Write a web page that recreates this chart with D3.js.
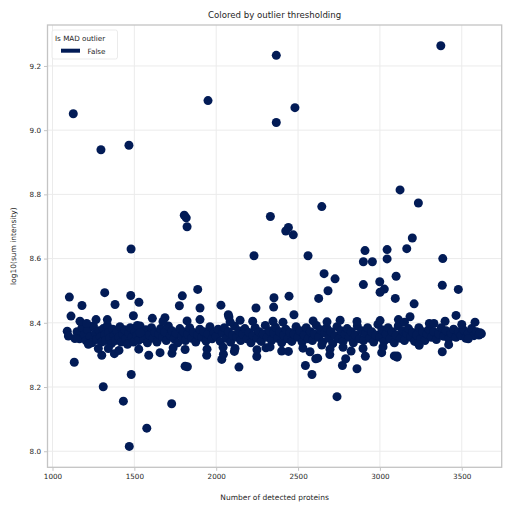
<!DOCTYPE html>
<html>
<head>
<meta charset="utf-8">
<script src="https://cdn.jsdelivr.net/npm/d3@7"></script>
<style>
  body { margin: 0; background: #fff; }
  text { font-family: "DejaVu Sans", sans-serif; fill: #262626; }
</style>
</head>
<body>
<svg id="chart"></svg>
<script>
// tick labels
var xTicks = [1000, 1500, 2000, 2500, 3000, 3500];
var yTicks = [8.0, 8.2, 8.4, 8.6, 8.8, 9.0, 9.2];
var legendItems = ["False"];

// [detected proteins, log10(sum intensity)]
var highPoints = [
  [1127, 9.051], [1296, 8.939], [1467, 8.953], [1950, 9.092], [2367, 9.233], [2367, 9.024],
  [2481, 9.070], [3372, 9.263], [1805, 8.735], [1817, 8.727], [1822, 8.699], [1480, 8.630],
  [2331, 8.731], [2231, 8.609], [1887, 8.504], [1319, 8.494], [2441, 8.697], [2425, 8.686],
  [2471, 8.674], [2645, 8.762], [2561, 8.609], [3123, 8.814], [3235, 8.773], [3198, 8.664],
  [3164, 8.631], [3044, 8.628], [3044, 8.599], [2909, 8.625], [2899, 8.590], [2954, 8.590],
  [3384, 8.600], [2659, 8.553], [2726, 8.537], [3099, 8.545], [2999, 8.528], [2899, 8.519],
  [3381, 8.517], [3479, 8.504], [2683, 8.500], [3027, 8.505], [3001, 8.495], [3094, 8.476],
  [3209, 8.459], [2626, 8.476], [2445, 8.483], [2353, 8.478], [2351, 8.449], [2243, 8.446],
  [2475, 8.425], [3465, 8.423], [3581, 8.402]
];

var upperBandEdge = [
  [1103, 8.480], [1478, 8.485], [1382, 8.457], [1180, 8.454], [1528, 8.464], [1494, 8.422],
  [1518, 8.392], [1113, 8.421], [1168, 8.405], [1610, 8.414], [1687, 8.416], [1793, 8.484],
  [1775, 8.453], [1901, 8.446], [2029, 8.455], [2074, 8.425], [2078, 8.418], [1901, 8.410],
  [2223, 8.405], [1266, 8.410], [1335, 8.410], [1209, 8.398], [1090, 8.374], [1097, 8.359],
  [1137, 8.351], [1535, 8.369], [3302, 8.398], [3398, 8.405], [3184, 8.419], [3113, 8.410],
  [3612, 8.369], [3540, 8.350],
  [1675, 8.404], [1822, 8.406], [2085, 8.403], [2146, 8.408], [2347, 8.405], [2408, 8.402],
  [2592, 8.406], [2677, 8.403], [2757, 8.408], [2860, 8.404], [3001, 8.407], [3150, 8.402],
  [3330, 8.398], [3500, 8.395]
];

var lowPoints = [
  [1310, 8.201], [1481, 8.239], [1433, 8.156], [1728, 8.148], [1576, 8.072], [1469, 8.015],
  [1133, 8.277], [1527, 8.318], [1588, 8.299], [1810, 8.265], [1824, 8.263], [2139, 8.262],
  [2034, 8.286], [1942, 8.299], [1657, 8.307], [1730, 8.305], [1810, 8.317], [1301, 8.299],
  [1378, 8.304], [1406, 8.314], [1341, 8.320], [1280, 8.320], [1219, 8.333], [2111, 8.311],
  [2044, 8.302], [2248, 8.295], [2738, 8.170], [2545, 8.267], [2585, 8.239], [2860, 8.257],
  [2771, 8.267], [2791, 8.288], [2911, 8.296], [2608, 8.288], [2620, 8.290], [2694, 8.301],
  [3381, 8.310], [3088, 8.297], [3105, 8.293], [2400, 8.312], [2441, 8.311], [2304, 8.322],
  [2573, 8.310], [2645, 8.331], [2824, 8.312], [3011, 8.307], [3105, 8.297],
  [1737, 8.322], [1944, 8.318], [2042, 8.324], [2115, 8.320], [2249, 8.316], [2329, 8.325],
  [2530, 8.321], [2695, 8.318], [2775, 8.324], [2897, 8.320], [3019, 8.325], [3240, 8.330],
  [3420, 8.332]
];

var bandPoints = [
  [1150, 8.372], [1165, 8.350], [1180, 8.385], [1195, 8.362], [1205, 8.345], [1215, 8.378],
  [1230, 8.357], [1240, 8.338], [1250, 8.390], [1262, 8.368], [1270, 8.348], [1285, 8.375],
  [1292, 8.356], [1300, 8.340], [1310, 8.382], [1318, 8.362], [1325, 8.345], [1335, 8.392],
  [1342, 8.370], [1350, 8.352], [1360, 8.335], [1368, 8.380], [1375, 8.360], [1385, 8.345],
  [1395, 8.372], [1405, 8.355], [1412, 8.388], [1420, 8.340], [1430, 8.365], [1440, 8.378],
  [1448, 8.350], [1458, 8.333], [1465, 8.368], [1475, 8.385], [1485, 8.355], [1495, 8.340],
  [1505, 8.372], [1515, 8.360], [1525, 8.345], [1535, 8.390], [1548, 8.365], [1558, 8.350],
  [1570, 8.378], [1580, 8.338], [1592, 8.362], [1605, 8.385], [1615, 8.352], [1625, 8.370],
  [1638, 8.340], [1650, 8.365], [1660, 8.382], [1672, 8.355], [1685, 8.372], [1695, 8.345],
  [1708, 8.390], [1720, 8.360], [1730, 8.375], [1742, 8.350], [1755, 8.368], [1765, 8.338],
  [1778, 8.382], [1790, 8.358], [1800, 8.372], [1812, 8.345], [1825, 8.365], [1838, 8.385],
  [1850, 8.352], [1862, 8.370], [1875, 8.340], [1888, 8.362], [1900, 8.380], [1912, 8.355],
  [1925, 8.372], [1938, 8.343], [1950, 8.365], [1962, 8.388], [1975, 8.350], [1988, 8.370],
  [2000, 8.358], [2012, 8.380], [2025, 8.342], [2038, 8.368], [2050, 8.385], [2062, 8.352],
  [2075, 8.372], [2088, 8.340], [2100, 8.362], [2112, 8.390], [2125, 8.355], [2138, 8.375],
  [2150, 8.345], [2162, 8.365], [2175, 8.382], [2188, 8.350], [2200, 8.370], [2212, 8.338],
  [2225, 8.360], [2238, 8.385], [2250, 8.352], [2262, 8.372], [2275, 8.342], [2288, 8.365],
  [2300, 8.392], [2312, 8.355], [2325, 8.375], [2338, 8.345], [2350, 8.368], [2362, 8.386],
  [2375, 8.352], [2388, 8.372], [2400, 8.338], [2412, 8.362], [2425, 8.380], [2438, 8.350],
  [2450, 8.370], [2462, 8.342], [2475, 8.365], [2488, 8.388], [2500, 8.355], [2512, 8.375],
  [2525, 8.340], [2538, 8.362], [2550, 8.385], [2562, 8.350], [2575, 8.372], [2588, 8.345],
  [2600, 8.365], [2612, 8.392], [2625, 8.355], [2638, 8.378], [2650, 8.340], [2662, 8.368],
  [2675, 8.385], [2688, 8.352], [2700, 8.372], [2712, 8.335], [2725, 8.360], [2738, 8.388],
  [2750, 8.350], [2762, 8.375], [2775, 8.342], [2788, 8.365], [2800, 8.382], [2812, 8.355],
  [2825, 8.372], [2838, 8.338], [2850, 8.362], [2862, 8.390], [2875, 8.350], [2888, 8.375],
  [2900, 8.345], [2912, 8.368], [2925, 8.385], [2938, 8.352], [2950, 8.372], [2962, 8.340],
  [2975, 8.362], [2988, 8.395], [3000, 8.355], [3012, 8.378], [3025, 8.342], [3038, 8.365],
  [3050, 8.385], [3062, 8.350], [3075, 8.372], [3088, 8.338], [3100, 8.362], [3112, 8.390],
  [3125, 8.352], [3138, 8.375], [3150, 8.345], [3162, 8.368], [3175, 8.382], [3188, 8.355],
  [3200, 8.370], [3212, 8.342], [3225, 8.362], [3238, 8.385], [3250, 8.350], [3262, 8.372],
  [3275, 8.345], [3288, 8.365], [3300, 8.380], [3315, 8.355], [3330, 8.372], [3345, 8.348],
  [3360, 8.365], [3375, 8.385], [3390, 8.358], [3405, 8.375], [3420, 8.350], [3435, 8.368],
  [3450, 8.380], [3465, 8.355], [3480, 8.372], [3495, 8.360], [3510, 8.378], [3525, 8.352],
  [3540, 8.368], [3560, 8.382], [3575, 8.360], [3590, 8.372], [3605, 8.362], [3620, 8.366]
];

var points = bandPoints.concat(upperBandEdge, lowPoints, highPoints);

var width = 511, height = 511;
var margin = {top: 25, right: 9.3, bottom: 43.7, left: 47.5};
var innerW = width - margin.left - margin.right;
var innerH = height - margin.top - margin.bottom;
var dotColor = "#021b56";
var gridColor = "#ebebeb";
var frameColor = "#c4c4c4";

var svg = d3.select("#chart")
    .attr("width", width)
    .attr("height", height);

var x = d3.scaleLinear().domain([969.5, 3744]).range([0, innerW]);
var y = d3.scaleLinear().domain([7.95, 9.3275]).range([innerH, 0]);

var g = svg.append("g")
    .attr("transform", "translate(" + margin.left + "," + margin.top + ")");

// grid
g.append("g").selectAll("line.vx")
    .data(xTicks).enter().append("line")
    .attr("x1", function(d) { return x(d); })
    .attr("x2", function(d) { return x(d); })
    .attr("y1", 0).attr("y2", innerH)
    .attr("stroke", gridColor).attr("stroke-width", 1);

g.append("g").selectAll("line.hy")
    .data(yTicks).enter().append("line")
    .attr("y1", function(d) { return y(d); })
    .attr("y2", function(d) { return y(d); })
    .attr("x1", 0).attr("x2", innerW)
    .attr("stroke", gridColor).attr("stroke-width", 1);

// points
g.append("g").selectAll("circle")
    .data(points).enter().append("circle")
    .attr("cx", function(d) { return x(d[0]); })
    .attr("cy", function(d) { return y(d[1]); })
    .attr("r", 4.5)
    .attr("fill", dotColor);

// axes
var xAxis = g.append("g")
    .attr("transform", "translate(0," + innerH + ")")
    .call(d3.axisBottom(x).tickValues(xTicks).tickFormat(d3.format("d")).tickSize(3.5).tickPadding(3));
var yAxis = g.append("g")
    .call(d3.axisLeft(y).tickValues(yTicks).tickFormat(d3.format(".1f")).tickSize(3.5).tickPadding(3));

[xAxis, yAxis].forEach(function(ax) {
  ax.select(".domain").remove();
  ax.selectAll(".tick line").attr("stroke", frameColor).attr("stroke-width", 1);
  ax.selectAll(".tick text").attr("font-size", 7.2).style("fill", "#262626")
    .attr("font-family", "DejaVu Sans, sans-serif");
});

// frame
g.append("rect")
    .attr("x", 0).attr("y", 0)
    .attr("width", innerW).attr("height", innerH)
    .attr("fill", "none")
    .attr("stroke", frameColor)
    .attr("stroke-width", 1.3);

// title and labels
svg.append("text")
    .attr("x", margin.left + innerW / 2).attr("y", 17.5)
    .attr("text-anchor", "middle").attr("font-size", 8.6)
    .text("Colored by outlier thresholding");

svg.append("text")
    .attr("x", margin.left + innerW / 2).attr("y", 499.5)
    .attr("text-anchor", "middle").attr("font-size", 7.5)
    .text("Number of detected proteins");

svg.append("text")
    .attr("transform", "translate(16," + (margin.top + innerH / 2) + ") rotate(-90)")
    .attr("text-anchor", "middle").attr("font-size", 7.5)
    .text("log10(sum intensity)");

// legend
var legend = svg.append("g").attr("transform", "translate(52,30)");
legend.append("rect")
    .attr("width", 65.5).attr("height", 29)
    .attr("rx", 2)
    .attr("fill", "#fff").attr("fill-opacity", 0.8)
    .attr("stroke", "#e6e6e6").attr("stroke-width", 0.8);
legend.append("text")
    .attr("x", 3).attr("y", 10.8)
    .attr("font-size", 7.2)
    .text("Is MAD outlier");
legend.selectAll("rect.item")
    .data(legendItems).enter().append("rect")
    .attr("class", "item")
    .attr("x", 9).attr("y", function(d, i) { return 18.7 + i * 10; })
    .attr("width", 19).attr("height", 4)
    .attr("fill", dotColor);
legend.selectAll("text.item")
    .data(legendItems).enter().append("text")
    .attr("class", "item")
    .attr("x", 35.5).attr("y", function(d, i) { return 23.5 + i * 10; })
    .attr("font-size", 7.2)
    .text(function(d) { return d; });
</script>
</body>
</html>
